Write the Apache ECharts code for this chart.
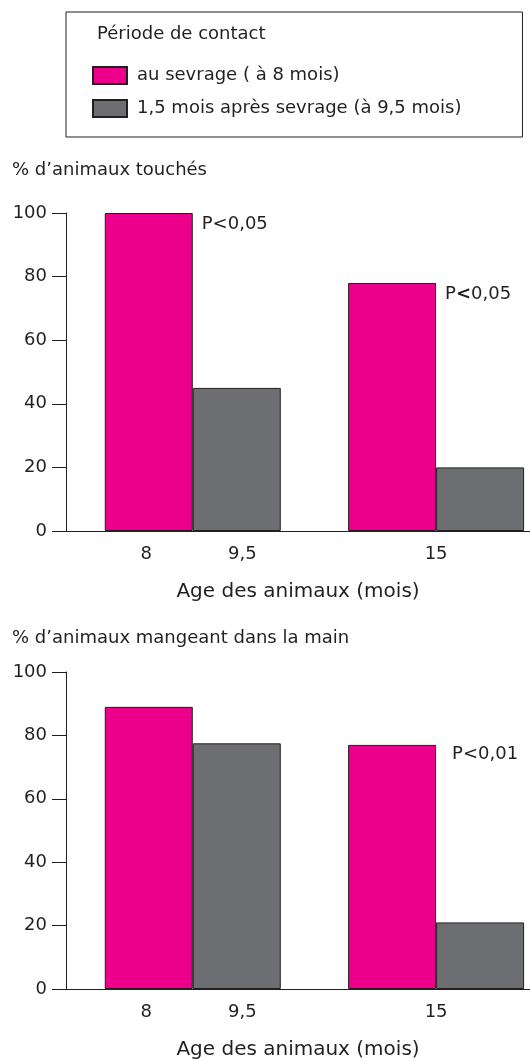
<!DOCTYPE html>
<html>
<head>
<meta charset="utf-8">
<script src="https://cdn.jsdelivr.net/npm/echarts@6/dist/echarts.min.js"></script>
<style>html,body{margin:0;padding:0;background:#fff;}#c{width:530px;height:1061px;}</style>
</head>
<body>
<div id="c"></div>
<script>
// ---- data ----
const legendTitle = 'Période de contact';
const seriesNames = ['au sevrage ( à 8 mois)', '1,5 mois après sevrage (à 9,5 mois)'];
const groups = ['8 / 9,5', '15'];
const groupTickLabels = [['8', '9,5'], ['15']];
const yTicks = [0, 20, 40, 60, 80, 100];
const chart1Title = "% d’animaux touchés";
const chart2Title = "% d’animaux mangeant dans la main";
const xTitle = 'Age des animaux (mois)';
const touchedWeaning = [100, 78];
const touchedLater = [45, 20];
const touchedP = ['P<0,05', 'P{b|<}0,05'];
const handWeaning = [89, 77];
const handLater = [77.5, 21];
const handP = ['', 'P<0,01'];

// ---- style ----
const FONT = 'DejaVu Sans';
const INK = '#231F20';
const PINK = '#EC008B';
const GRAY = '#6D6E71';

const chart = echarts.init(document.getElementById('c'), null, {renderer: 'canvas'});

function xAxisFor(gridIndex) {
  return {
    type: 'value', gridIndex: gridIndex,
    min: -0.521, max: 1.386,
    name: xTitle, nameLocation: 'middle', nameGap: 51,
    nameTextStyle: {fontFamily: FONT, fontSize: 20, color: INK},
    axisLine: {show: true, onZero: false, lineStyle: {color: INK, width: 1}},
    axisTick: {show: false},
    splitLine: {show: false},
    axisLabel: {
      customValues: groups.map((g, i) => i),
      margin: 14,
      formatter: function (v) {
        const labs = groupTickLabels[Math.round(v)] || [];
        if (labs.length === 2) return '{a|' + labs[0] + '}{b|' + labs[1] + '}';
        return '{s|' + labs.join('') + '}';
      },
      rich: {
        a: {width: 99, align: 'center', fontFamily: FONT, fontSize: 18, color: INK},
        b: {width: 93, align: 'center', fontFamily: FONT, fontSize: 18, color: INK},
        s: {align: 'center', fontFamily: FONT, fontSize: 18, color: INK}
      }
    }
  };
}
function yAxisFor(gridIndex) {
  return {
    type: 'value', gridIndex: gridIndex,
    min: yTicks[0], max: yTicks[yTicks.length - 1], interval: yTicks[1] - yTicks[0],
    axisLine: {show: true, onZero: false, lineStyle: {color: INK, width: 1}},
    axisTick: {show: true, length: 14, lineStyle: {color: INK, width: 1}},
    splitLine: {show: false},
    axisLabel: {margin: 19, fontFamily: FONT, fontSize: 18, color: INK}
  };
}
function barSeries(name, color, values, axisIdx, labels, labelPos) {
  const s = {
    type: 'bar', name: name,
    xAxisIndex: axisIdx, yAxisIndex: axisIdx,
    barWidth: 88, barGap: '0%',
    data: values.map((v, i) => [i, v]),
    itemStyle: {color: color, borderColor: INK, borderWidth: 1},
    emphasis: {disabled: true}
  };
  if (labels) {
    s.label = {
      show: true, position: labelPos, align: 'left', verticalAlign: 'top',
      fontFamily: FONT, fontSize: 18, color: INK,
      formatter: p => labels[p.dataIndex] || '',
      rich: {b: {fontFamily: FONT, fontSize: 18, fontWeight: 'bold', color: INK}}
    };
  }
  return s;
}

chart.setOption({
  animation: false,
  backgroundColor: '#fff',
  title: [
    {text: legendTitle, left: 97, top: 25, padding: 0,
     textStyle: {fontFamily: FONT, fontSize: 18, fontWeight: 'normal', color: INK}},
    {text: chart1Title, left: 12, top: 161, padding: 0,
     textStyle: {fontFamily: FONT, fontSize: 18, fontWeight: 'normal', color: INK}},
    {text: chart2Title, left: 12, top: 629, padding: 0,
     textStyle: {fontFamily: FONT, fontSize: 18, fontWeight: 'normal', color: INK}}
  ],
  legend: {
    data: seriesNames,
    orient: 'vertical', left: 66, top: 12,
    padding: [54, 61, 19, 26],
    itemWidth: 34, itemHeight: 17, itemGap: 14,
    borderColor: INK, borderWidth: 1,
    icon: 'rect',
    selectedMode: false,
    textStyle: {fontFamily: FONT, fontSize: 18, color: INK, padding: [0, 0, 0, 5]}
  },
  grid: [
    {left: 66, right: 0, top: 213, height: 318},
    {left: 66, right: 0, top: 672, height: 322}
  ],
  xAxis: [xAxisFor(0), xAxisFor(1)],
  yAxis: [yAxisFor(0), yAxisFor(1)],
  series: [
    barSeries(seriesNames[0], PINK, touchedWeaning, 0, touchedP, [97, 2]),
    barSeries(seriesNames[1], GRAY, touchedLater, 0),
    barSeries(seriesNames[0], PINK, handWeaning, 1, handP, [104, 0]),
    barSeries(seriesNames[1], GRAY, handLater, 1)
  ]
});
</script>
</body>
</html>
